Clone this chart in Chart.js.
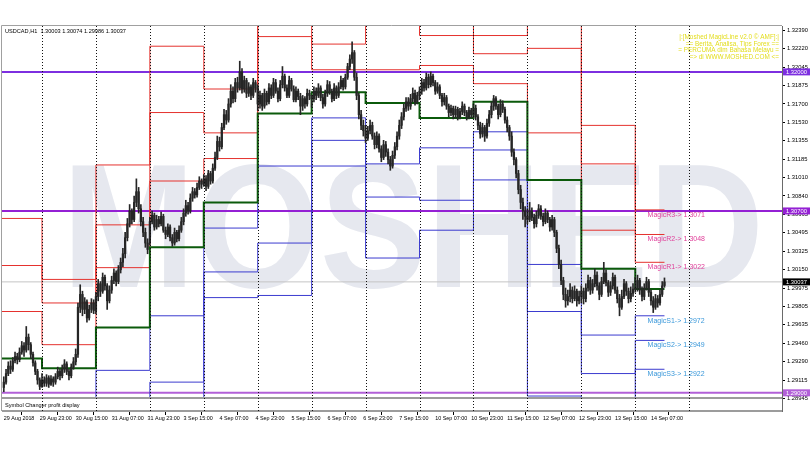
<!DOCTYPE html>
<html><head><meta charset="utf-8">
<script src="https://cdn.jsdelivr.net/npm/chart.js@4/dist/chart.umd.min.js"></script>
<style>html,body{margin:0;padding:0;background:#fff;overflow:hidden}canvas{display:block}</style>
</head><body><canvas id="c" width="810" height="450"></canvas>
<script>
// ---------------- DATA ----------------
const headerText = 'USDCAD,H1  1.30003 1.30074 1.29986 1.30037';
const watermark = 'MOSHED';
const infoLines = ['|:[Moshed MagicLine v2.0 \u00A9 AMF]:|', '== Berita, Analisa, Tips Forex ==', '= PERCUMA dlm Bahasa Melayu =', '=> di WWW.MOSHED.COM <='];
const subWindowTitle = 'Symbol Changer profit display';

const timeLabels = ['29 Aug 2018','29 Aug 23:00','30 Aug 15:00','31 Aug 07:00','31 Aug 23:00','3 Sep 15:00','4 Sep 07:00','4 Sep 23:00','5 Sep 15:00','6 Sep 07:00','6 Sep 23:00','7 Sep 15:00','10 Sep 07:00','10 Sep 23:00','11 Sep 15:00','12 Sep 07:00','12 Sep 23:00','13 Sep 15:00','14 Sep 07:00'];
const timeLabelBars = [0,16,32,48,64,80,96,112,128,144,160,176,192,208,224,240,256,272,288];
const daySeparatorBars = [17,41,65,89,113,137,161,185,209,233,257,281,305];

const priceTicks = [1.32390,1.32220,1.32045,1.31875,1.31700,1.31530,1.31355,1.31185,1.31010,1.30840,1.30665,1.30495,1.30325,1.30150,1.29975,1.29805,1.29635,1.29460,1.29290,1.29115,1.28945];
const hLineLevels = [1.32000, 1.30700, 1.29000];
const hLineColors = ['#7d2fe0', '#9420d4', '#b260d8'];
const currentPrice = 1.30037;

// hourly candles (bar 0 = 29 Aug 07:00 ... bar 294 = 14 Sep 13:00)
const opens = [
1.2905,1.2910,1.2918,1.2925,1.2922,1.2930,1.2934,1.2931,1.2938,1.2944,1.2940,1.2952,1.2945,1.2936,1.2928,1.2920,1.2912,
1.2906,1.2912,1.2909,1.2914,1.2908,1.2913,1.2910,1.2915,1.2920,1.2916,1.2922,1.2927,1.2920,1.2916,1.2924,1.2929,1.2936,1.2980,1.2992,1.2978,1.2985,1.2970,1.2978,1.2984,
1.2977,1.2990,1.3002,1.2995,1.3008,1.3000,1.2986,1.2996,1.3005,1.3012,1.3004,1.3015,1.3022,1.3030,1.3045,1.3058,1.3070,1.3062,1.3078,1.3088,1.3072,1.3060,1.3050,1.3040,
1.3040,1.3060,1.3066,1.3055,1.3062,1.3058,1.3065,1.3052,1.3048,1.3055,1.3045,1.3040,1.3050,1.3044,1.3052,1.3060,1.3068,1.3075,1.3070,1.3082,1.3088,1.3085,1.3092,1.3098,
1.3095,1.3100,1.3093,1.3105,1.3098,1.3110,1.3120,1.3135,1.3130,1.3148,1.3160,1.3155,1.3170,1.3182,1.3175,1.3190,1.3185,1.3200,1.3184,1.3192,1.3180,1.3186,1.3178,1.3190,
1.3185,1.3170,1.3178,1.3168,1.3180,1.3172,1.3185,1.3178,1.3190,1.3182,1.3175,1.3188,1.3196,1.3185,1.3178,1.3192,1.3184,1.3174,1.3182,1.3177,1.3168,1.3175,1.3170,1.3180,
1.3178,1.3175,1.3182,1.3178,1.3185,1.3176,1.3170,1.3180,1.3188,1.3182,1.3175,1.3185,1.3178,1.3186,1.3192,1.3186,1.3195,1.3205,1.3212,1.3218,1.3195,1.3178,1.3160,1.3150,
1.3145,1.3138,1.3145,1.3150,1.3140,1.3132,1.3140,1.3128,1.3120,1.3132,1.3125,1.3118,1.3112,1.3122,1.3130,1.3140,1.3150,1.3158,1.3166,1.3172,1.3168,1.3175,1.3180,1.3172,
1.3178,1.3182,1.3190,1.3185,1.3195,1.3188,1.3196,1.3190,1.3182,1.3186,1.3178,1.3172,1.3176,1.3168,1.3162,1.3166,1.3160,1.3165,1.3158,1.3163,1.3168,1.3162,1.3158,1.3164,
1.3160,1.3166,1.3158,1.3150,1.3142,1.3148,1.3140,1.3152,1.3160,1.3168,1.3175,1.3168,1.3160,1.3170,1.3165,1.3155,1.3148,1.3140,1.3125,1.3118,1.3105,1.3090,1.3078,1.3070,
1.3065,1.3062,1.3070,1.3064,1.3058,1.3066,1.3072,1.3065,1.3060,1.3068,1.3062,1.3055,1.3062,1.3050,1.3035,1.3020,1.3005,1.2992,1.2986,1.2990,1.2996,1.2988,1.2995,1.2986,
1.2990,1.2995,1.2988,1.2998,1.3005,1.2996,1.3002,1.3010,1.3000,1.2992,1.3004,1.3012,1.3003,1.2994,1.3000,1.3008,1.2996,1.2988,1.2980,1.2990,1.3002,1.2995,1.2988,1.2993,
1.2997,1.2998,1.3005,1.2996,1.2990,1.2998,1.3004,1.2994,1.2986,1.2980,1.2988,1.2984,1.2992,1.30003];
const closes = [
1.2910,1.2918,1.2925,1.2922,1.2930,1.2934,1.2931,1.2938,1.2944,1.2940,1.2952,1.2945,1.2936,1.2928,1.2920,1.2912,1.2906,
1.2912,1.2909,1.2914,1.2908,1.2913,1.2910,1.2915,1.2920,1.2916,1.2922,1.2927,1.2920,1.2916,1.2924,1.2929,1.2936,1.2980,1.2992,1.2978,1.2985,1.2970,1.2978,1.2984,1.2977,
1.2990,1.3002,1.2995,1.3008,1.3000,1.2986,1.2996,1.3005,1.3012,1.3004,1.3015,1.3022,1.3030,1.3045,1.3058,1.3070,1.3062,1.3078,1.3088,1.3072,1.3060,1.3050,1.3040,1.3034,
1.3060,1.3066,1.3055,1.3062,1.3058,1.3065,1.3052,1.3048,1.3055,1.3045,1.3040,1.3050,1.3044,1.3052,1.3060,1.3068,1.3075,1.3070,1.3082,1.3088,1.3085,1.3092,1.3098,1.3095,
1.3100,1.3093,1.3105,1.3098,1.3110,1.3120,1.3135,1.3130,1.3148,1.3160,1.3155,1.3170,1.3182,1.3175,1.3190,1.3185,1.3200,1.3184,1.3192,1.3180,1.3186,1.3178,1.3190,1.3185,
1.3170,1.3178,1.3168,1.3180,1.3172,1.3185,1.3178,1.3190,1.3182,1.3175,1.3188,1.3196,1.3185,1.3178,1.3192,1.3184,1.3174,1.3182,1.3177,1.3168,1.3175,1.3170,1.3180,1.3178,
1.3175,1.3182,1.3178,1.3185,1.3176,1.3170,1.3180,1.3188,1.3182,1.3175,1.3185,1.3178,1.3186,1.3192,1.3186,1.3195,1.3205,1.3212,1.3218,1.3195,1.3178,1.3160,1.3150,1.3145,
1.3138,1.3145,1.3150,1.3140,1.3132,1.3140,1.3128,1.3120,1.3132,1.3125,1.3118,1.3112,1.3122,1.3130,1.3140,1.3150,1.3158,1.3166,1.3172,1.3168,1.3175,1.3180,1.3172,1.3178,
1.3182,1.3190,1.3185,1.3195,1.3188,1.3196,1.3190,1.3182,1.3186,1.3178,1.3172,1.3176,1.3168,1.3162,1.3166,1.3160,1.3165,1.3158,1.3163,1.3168,1.3162,1.3158,1.3164,1.3160,
1.3166,1.3158,1.3150,1.3142,1.3148,1.3140,1.3152,1.3160,1.3168,1.3175,1.3168,1.3160,1.3170,1.3165,1.3155,1.3148,1.3140,1.3125,1.3118,1.3105,1.3090,1.3078,1.3070,1.3065,
1.3062,1.3070,1.3064,1.3058,1.3066,1.3072,1.3065,1.3060,1.3068,1.3062,1.3055,1.3062,1.3050,1.3035,1.3020,1.3005,1.2992,1.2986,1.2990,1.2996,1.2988,1.2995,1.2986,1.2990,
1.2995,1.2988,1.2998,1.3005,1.2996,1.3002,1.3010,1.3000,1.2992,1.3004,1.3012,1.3003,1.2994,1.3000,1.3008,1.2996,1.2988,1.2980,1.2990,1.3002,1.2995,1.2988,1.2993,1.2997,
1.2998,1.3005,1.2996,1.2990,1.2998,1.3004,1.2994,1.2986,1.2980,1.2988,1.2984,1.2992,1.3000,1.30037];
const highs = [
1.2915,1.2922,1.2929,1.2930,1.2933,1.2938,1.2937,1.2942,1.2948,1.2947,1.2962,1.2955,1.2947,1.2938,1.2930,1.2922,1.2914,
1.2918,1.2915,1.2917,1.2916,1.2916,1.2915,1.2918,1.2924,1.2922,1.2926,1.2931,1.2929,1.2922,1.2927,1.2933,1.2941,1.2984,1.3001,1.2995,1.2989,1.2987,1.2982,1.2988,1.2987,
1.2994,1.3006,1.3004,1.3012,1.3010,1.3002,1.3000,1.3009,1.3016,1.3014,1.3019,1.3026,1.3035,1.3050,1.3063,1.3076,1.3072,1.3084,1.3100,1.3092,1.3076,1.3064,1.3054,1.3044,
1.3064,1.3070,1.3068,1.3066,1.3065,1.3069,1.3067,1.3055,1.3058,1.3057,1.3048,1.3054,1.3052,1.3056,1.3064,1.3072,1.3080,1.3078,1.3086,1.3092,1.3091,1.3096,1.3102,1.3100,
1.3104,1.3103,1.3108,1.3107,1.3114,1.3125,1.3140,1.3139,1.3152,1.3165,1.3164,1.3175,1.3188,1.3186,1.3194,1.3195,1.3210,1.3203,1.3196,1.3194,1.3190,1.3188,1.3194,1.3192,
1.3188,1.3182,1.3180,1.3184,1.3182,1.3189,1.3188,1.3194,1.3193,1.3185,1.3192,1.3205,1.3198,1.3188,1.3196,1.3194,1.3187,1.3186,1.3184,1.3180,1.3178,1.3177,1.3184,1.3183,
1.3178,1.3186,1.3185,1.3189,1.3187,1.3179,1.3183,1.3192,1.3191,1.3184,1.3189,1.3187,1.3190,1.3196,1.3194,1.3198,1.3208,1.3216,1.3228,1.3220,1.3199,1.3180,1.3164,1.3155,
1.3150,1.3149,1.3155,1.3153,1.3143,1.3144,1.3142,1.3131,1.3136,1.3135,1.3128,1.3121,1.3126,1.3134,1.3144,1.3155,1.3162,1.3170,1.3176,1.3176,1.3179,1.3185,1.3183,1.3181,
1.3186,1.3194,1.3193,1.3199,1.3198,1.3200,1.3198,1.3192,1.3190,1.3188,1.3180,1.3180,1.3178,1.3170,1.3169,1.3168,1.3168,1.3167,1.3166,1.3172,1.3170,1.3164,1.3167,1.3166,
1.3170,1.3169,1.3160,1.3153,1.3152,1.3150,1.3156,1.3164,1.3172,1.3178,1.3177,1.3170,1.3174,1.3173,1.3167,1.3158,1.3150,1.3144,1.3128,1.3120,1.3108,1.3094,1.3082,1.3074,
1.3072,1.3078,1.3073,1.3067,1.3070,1.3076,1.3075,1.3068,1.3072,1.3070,1.3064,1.3066,1.3064,1.3052,1.3038,1.3024,1.3008,1.2998,1.2996,1.3002,1.2999,1.3000,1.2997,1.2995,
1.3000,1.2998,1.3002,1.3010,1.3008,1.3006,1.3016,1.3013,1.3003,1.3008,1.3022,1.3015,1.3005,1.3004,1.3012,1.3010,1.2999,1.2992,1.2996,1.3006,1.3004,1.2998,1.2999,1.3002,
1.3008,1.3010,1.3007,1.2999,1.3002,1.3008,1.3006,1.2996,1.2990,1.2992,1.2991,1.2996,1.3004,1.30074];
const lows = [
1.2901,1.2908,1.2916,1.2918,1.2920,1.2928,1.2927,1.2929,1.2936,1.2934,1.2938,1.2940,1.2932,1.2925,1.2917,1.2908,1.2903,
1.2905,1.2906,1.2906,1.2905,1.2907,1.2906,1.2908,1.2913,1.2912,1.2914,1.2919,1.2917,1.2912,1.2914,1.2922,1.2926,1.2933,1.2975,1.2972,1.2974,1.2966,1.2968,1.2975,1.2974,
1.2974,1.2986,1.2990,1.2993,1.2996,1.2978,1.2984,1.2993,1.3002,1.3000,1.3002,1.3012,1.3018,1.3026,1.3042,1.3055,1.3058,1.3060,1.3074,1.3068,1.3056,1.3046,1.3036,1.3030,
1.3038,1.3058,1.3052,1.3053,1.3055,1.3056,1.3050,1.3044,1.3046,1.3042,1.3037,1.3038,1.3041,1.3042,1.3050,1.3057,1.3065,1.3067,1.3068,1.3079,1.3082,1.3083,1.3090,1.3091,
1.3093,1.3089,1.3091,1.3095,1.3096,1.3108,1.3118,1.3126,1.3128,1.3146,1.3151,1.3153,1.3167,1.3171,1.3172,1.3181,1.3183,1.3180,1.3181,1.3176,1.3177,1.3174,1.3176,1.3181,
1.3164,1.3166,1.3164,1.3166,1.3169,1.3170,1.3175,1.3176,1.3180,1.3172,1.3173,1.3185,1.3182,1.3176,1.3176,1.3182,1.3172,1.3172,1.3174,1.3160,1.3164,1.3166,1.3168,1.3174,
1.3167,1.3172,1.3174,1.3176,1.3173,1.3166,1.3168,1.3177,1.3179,1.3172,1.3173,1.3175,1.3176,1.3184,1.3183,1.3184,1.3193,1.3202,1.3208,1.3192,1.3174,1.3156,1.3146,1.3140,
1.3134,1.3136,1.3142,1.3137,1.3128,1.3129,1.3125,1.3116,1.3118,1.3121,1.3114,1.3108,1.3110,1.3119,1.3127,1.3137,1.3147,1.3155,1.3163,1.3164,1.3165,1.3172,1.3169,1.3170,
1.3174,1.3179,1.3182,1.3183,1.3185,1.3186,1.3187,1.3179,1.3180,1.3175,1.3168,1.3169,1.3165,1.3158,1.3159,1.3156,1.3157,1.3155,1.3156,1.3160,1.3159,1.3155,1.3156,1.3157,
1.3157,1.3155,1.3146,1.3138,1.3139,1.3135,1.3138,1.3149,1.3157,1.3164,1.3165,1.3156,1.3158,1.3162,1.3152,1.3144,1.3136,1.3121,1.3113,1.3101,1.3086,1.3072,1.3062,1.3055,
1.3058,1.3060,1.3061,1.3054,1.3055,1.3063,1.3062,1.3056,1.3058,1.3059,1.3051,1.3052,1.3046,1.3031,1.3016,1.3001,1.2987,1.2980,1.2982,1.2985,1.2984,1.2986,1.2981,1.2983,
1.2984,1.2983,1.2985,1.2995,1.2992,1.2993,1.2999,1.2996,1.2987,1.2990,1.3002,1.3000,1.2990,1.2991,1.2997,1.2993,1.2984,1.2972,1.2978,1.2988,1.2991,1.2984,1.2985,1.2990,
1.2994,1.2995,1.2992,1.2986,1.2987,1.2996,1.2990,1.2982,1.2975,1.2978,1.2980,1.2982,1.2990,1.29986];

// daily MagicLine pivot levels (29 Aug, 30 Aug, 31 Aug, 3 Sep ... 14 Sep)
const pivotDayStarts = [-1,17,41,65,89,113,137,161,185,209,233,257,281];
const lastBar = 294;
const pivotR3 = [1.3063,1.3006,1.3113,1.3224,1.3184,1.3354,1.3247,1.3290,1.3283,1.3234,1.3266,1.3150,1.3071];
const pivotR2 = [1.3019,1.2984,1.3057,1.3162,1.3143,1.3282,1.3226,1.3259,1.3234,1.3217,1.3222,1.3114,1.3048];
const pivotR1 = [1.2976,1.2945,1.3017,1.3098,1.3119,1.3233,1.3202,1.3202,1.3206,1.3189,1.3143,1.3052,1.3022];
const pivotP  = [1.2932,1.2923,1.2961,1.3036,1.3078,1.3161,1.3181,1.3171,1.3157,1.3172,1.3099,1.3016,1.2997];
const pivotS1 = [1.2889,1.2884,1.2921,1.2972,1.3054,1.3112,1.3157,1.3114,1.3129,1.3144,1.3020,1.2954,1.2972];
const pivotS2 = [1.2845,1.2862,1.2865,1.2910,1.3013,1.3040,1.3136,1.3083,1.3080,1.3127,1.2976,1.2918,1.2949];
const pivotS3 = [1.2802,1.2823,1.2825,1.2846,1.2989,1.2991,1.3112,1.3026,1.3052,1.3099,1.2897,1.2856,1.2922];
const levelLabelNames = ['MagicR3','MagicR2','MagicR1','MagicS1','MagicS2','MagicS3'];

// ---------------- LAYOUT CONSTANTS ----------------
const X_MIN = -0.8, X_MAX = 346.3;
const Y_MIN = 1.28830, Y_MAX = 1.32429;
const FONT = '"Liberation Sans", Arial, sans-serif';
const RED = '#e5322e', BLUE = '#3b3bcf', GREEN = '#0b5a0b', CANDLE = '#262626';

function stepData(levels) {
  const pts = pivotDayStarts.map((d, i) => ({x: d, y: levels[i]}));
  pts.push({x: lastBar, y: levels[levels.length - 1]});
  return pts;
}
function pivotDs(levels, color, width, order) {
  return {type: 'line', data: stepData(levels), borderColor: color, borderWidth: width, stepped: true, pointRadius: 0, order: order};
}
function hLineDs(v, color, width) {
  return {type: 'line', data: [{x: X_MIN, y: v}, {x: X_MAX, y: v}], borderColor: color, borderWidth: width, pointRadius: 0, order: 3};
}
const bars = closes.map((_, i) => i);

const mtPlugin = {
  id: 'mt',
  beforeDatasetsDraw(chart) {
    const {ctx, chartArea: a} = chart;
    ctx.save();
    ctx.beginPath(); ctx.rect(a.left, a.top, a.right - a.left, a.bottom - a.top); ctx.clip();
    ctx.font = 'bold 176px ' + FONT;
    ctx.fillStyle = '#e6e8ef';
    const w = ctx.measureText(watermark).width;
    ctx.translate(62, 287); ctx.scale(702 / w, 1);
    ctx.textBaseline = 'alphabetic'; ctx.textAlign = 'left';
    ctx.fillText(watermark, 0, 0);
    ctx.restore();
  },
  afterDatasetsDraw(chart) {
    const {ctx, chartArea: a, scales: {x, y}} = chart;
    ctx.save();
    // sub window
    ctx.fillStyle = '#fff';
    ctx.fillRect(a.left, 397, a.right - a.left, a.bottom - 397);
    ctx.fillStyle = '#9c9c9c';
    ctx.fillRect(a.left, 397, a.right - a.left, 2);
    ctx.fillRect(a.left, 410, a.right - a.left, 2);
    // day separators
    ctx.strokeStyle = '#111'; ctx.lineWidth = 1; ctx.setLineDash([1, 2]);
    daySeparatorBars.forEach(b => {
      const px = Math.round(x.getPixelForValue(b)) + 0.5;
      ctx.beginPath(); ctx.moveTo(px, a.top); ctx.lineTo(px, a.bottom); ctx.stroke();
    });
    ctx.setLineDash([]);
    // frame
    ctx.strokeStyle = '#a0a0a0';
    ctx.beginPath(); ctx.moveTo(a.left - 0.5, 25.5); ctx.lineTo(a.right, 25.5); ctx.stroke();
    ctx.beginPath(); ctx.moveTo(a.left - 0.5, 25.5); ctx.lineTo(a.left - 0.5, a.bottom); ctx.stroke();
    // texts
    ctx.fillStyle = '#000'; ctx.textBaseline = 'middle'; ctx.textAlign = 'left';
    ctx.font = '5.6px ' + FONT;
    ctx.fillText(headerText, 5, 31);
    ctx.fillText(subWindowTitle, 5, 405);
    ctx.fillStyle = '#e3dd1c'; ctx.textAlign = 'right'; ctx.font = '6.4px ' + FONT;
    infoLines.forEach((t, i) => ctx.fillText(t, a.right - 3, 37.5 + i * 6.6));
    // level labels of the last day
    const lastLv = [pivotR3, pivotR2, pivotR1, pivotS1, pivotS2, pivotS3].map(arr => arr[arr.length - 1]);
    const lx = x.getPixelForValue(pivotDayStarts[pivotDayStarts.length - 1] + 5.5);
    ctx.textAlign = 'left'; ctx.font = '7px ' + FONT;
    lastLv.forEach((v, i) => {
      ctx.fillStyle = i < 3 ? '#e0409a' : '#3a98da';
      ctx.fillText(levelLabelNames[i] + '-> ' + v.toFixed(4), lx, y.getPixelForValue(v) + 5);
    });
    // price boxes on axis
    ctx.font = '5.8px ' + FONT; ctx.textBaseline = 'middle';
    const box = (v, bg) => {
      const py = y.getPixelForValue(v);
      ctx.fillStyle = bg; ctx.fillRect(a.right + 1, py - 3.5, 27, 7);
      ctx.fillStyle = '#fff'; ctx.fillText(v.toFixed(5), a.right + 4, py + 0.3);
    };
    hLineLevels.forEach((v, i) => box(v, hLineColors[i]));
    box(currentPrice, '#000');
    ctx.restore();
  }
};

Chart.defaults.font.family = FONT;
new Chart(document.getElementById('c'), {
  type: 'bar',
  data: {
    datasets: [
      {type: 'bar', data: bars.map(i => ({x: i, y: [lows[i], highs[i]]})), backgroundColor: CANDLE, barThickness: 1, grouped: false, order: 0},
      {type: 'bar', data: bars.map(i => ({x: i, y: [opens[i], closes[i]]})), backgroundColor: CANDLE, barThickness: 1.6, minBarLength: 1, grouped: false, order: 0},
      pivotDs(pivotR3, RED, 1, 2), pivotDs(pivotR2, RED, 1, 2), pivotDs(pivotR1, RED, 1, 2),
      pivotDs(pivotS1, BLUE, 1, 2), pivotDs(pivotS2, BLUE, 1, 2), pivotDs(pivotS3, BLUE, 1, 2),
      pivotDs(pivotP, GREEN, 2, 1),
      hLineDs(currentPrice, '#c4c4c4', 1),
      ...hLineLevels.map((v, i) => hLineDs(v, hLineColors[i], 2))
    ]
  },
  options: {
    responsive: false, animation: false, devicePixelRatio: 1,
    layout: {padding: {top: 26, left: 2, right: 0, bottom: 0}},
    plugins: {legend: {display: false}, tooltip: {enabled: false}},
    scales: {
      x: {
        type: 'linear', min: X_MIN, max: X_MAX, offset: false,
        afterBuildTicks: s => { s.ticks = timeLabelBars.map(v => ({value: v})); },
        afterFit: s => { s.height = 39; },
        ticks: {align: 'start', autoSkip: false, maxRotation: 0, padding: 0, color: '#000', font: {size: 5.4},
          callback: (v) => timeLabels[timeLabelBars.indexOf(v)]},
        grid: {drawOnChartArea: false, tickLength: 4, color: '#000'},
        border: {display: false}
      },
      y: {
        type: 'linear', position: 'right', min: Y_MIN, max: Y_MAX,
        afterBuildTicks: s => { s.ticks = priceTicks.map(v => ({value: v})); },
        afterFit: s => { s.width = 28; },
        ticks: {autoSkip: false, padding: 2, color: '#000', font: {size: 5.8}, callback: v => v.toFixed(5)},
        grid: {drawOnChartArea: false, tickLength: 3, color: '#000'},
        border: {display: true, color: '#6a6a6a'}
      }
    }
  },
  plugins: [mtPlugin]
});
</script>
</body></html>
